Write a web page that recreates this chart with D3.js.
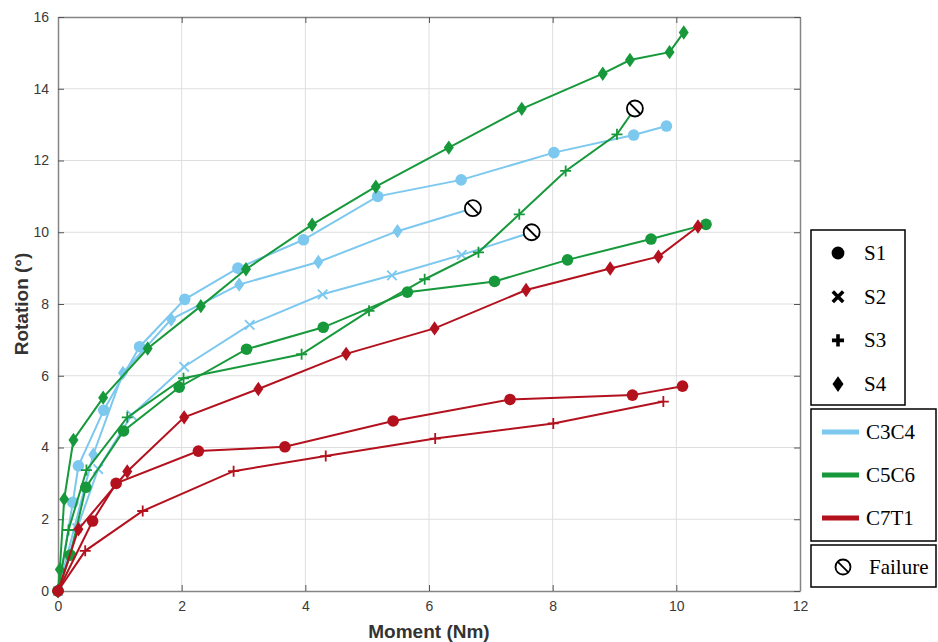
<!DOCTYPE html>
<html>
<head>
<meta charset="utf-8">
<script src="https://cdn.jsdelivr.net/npm/d3@7"></script>
<style>
  body { margin: 0; background: #fff; }
  svg { display: block; }
</style>
</head>
<body>
<div id="chart-area"></div>
<script>
// DATA  (moment Nm, rotation deg)
var c3c4_s1 = [[0,0],[0.24,2.47],[0.33,3.49],[0.74,5.04],[1.32,6.81],[2.05,8.13],[2.91,9.0],[3.97,9.79],[5.17,11.0],[6.52,11.46],[8.02,12.22],[9.31,12.71],[9.84,12.96]];
var c3c4_s2 = [[0,0],[0.31,1.75],[0.65,3.4],[1.19,4.9],[2.04,6.25],[3.1,7.42],[4.28,8.27],[5.40,8.8],[6.53,9.37],[7.66,10.0]];
var c3c4_s4 = [[0,0],[0.57,3.8],[1.05,6.08],[1.83,7.57],[2.93,8.54],[4.21,9.17],[5.49,10.03],[6.71,10.67]];
var c5c6_s1 = [[0,0],[0.2,1.0],[0.45,2.89],[1.06,4.46],[1.96,5.68],[3.05,6.74],[4.29,7.35],[5.65,8.33],[7.06,8.63],[8.24,9.23],[9.59,9.81],[10.48,10.22]];
var c5c6_s3 = [[0,0],[0.17,1.7],[0.46,3.37],[1.12,4.84],[2.03,5.93],[3.94,6.60],[5.03,7.81],[5.93,8.69],[6.80,9.44],[7.46,10.5],[8.21,11.71],[9.04,12.73],[9.33,13.45]];
var c5c6_s4 = [[0,0],[0.03,0.6],[0.10,2.56],[0.25,4.21],[0.73,5.39],[1.45,6.76],[2.31,7.94],[3.04,8.97],[4.11,10.21],[5.14,11.27],[6.32,12.36],[7.50,13.44],[8.81,14.42],[9.25,14.8],[9.89,15.02],[10.12,15.57]];
var c7t1_s1 = [[0,0],[0.56,1.95],[0.94,3.0],[2.27,3.9],[3.67,4.02],[5.42,4.74],[7.31,5.34],[9.29,5.46],[10.10,5.71]];
var c7t1_s3 = [[0,0],[0.44,1.12],[1.37,2.23],[2.84,3.34],[4.33,3.76],[6.10,4.25],[8.01,4.67],[9.79,5.28]];
var c7t1_s4 = [[0,0],[0.33,1.72],[1.12,3.33],[2.04,4.84],[3.24,5.63],[4.66,6.61],[6.09,7.32],[7.57,8.39],[8.93,8.99],[9.71,9.32],[10.35,10.16]];

// which series end in failure (last point)
var failed = ["c3c4_s2", "c3c4_s4", "c5c6_s3"];

var levels = ["C3C4", "C5C6", "C7T1"];
var levelColor = { "C3C4": "#7cc8ee", "C5C6": "#17993b", "C7T1": "#b3111d" };
var specimens = ["S1", "S2", "S3", "S4"];

var xTicks = [0, 2, 4, 6, 8, 10, 12];
var yTicks = [0, 2, 4, 6, 8, 10, 12, 14, 16];

var series = [
    { id: "c3c4_s1", level: "C3C4", spec: "S1", pts: c3c4_s1 },
    { id: "c3c4_s2", level: "C3C4", spec: "S2", pts: c3c4_s2 },
    { id: "c3c4_s4", level: "C3C4", spec: "S4", pts: c3c4_s4 },
    { id: "c5c6_s1", level: "C5C6", spec: "S1", pts: c5c6_s1 },
    { id: "c5c6_s3", level: "C5C6", spec: "S3", pts: c5c6_s3 },
    { id: "c5c6_s4", level: "C5C6", spec: "S4", pts: c5c6_s4 },
    { id: "c7t1_s1", level: "C7T1", spec: "S1", pts: c7t1_s1 },
    { id: "c7t1_s3", level: "C7T1", spec: "S3", pts: c7t1_s3 },
    { id: "c7t1_s4", level: "C7T1", spec: "S4", pts: c7t1_s4 }
];

var margin = { left: 58, right: 138, top: 17, bottom: 51 };
var W = 938, H = 642;
var width = W - margin.left - margin.right,
    height = H - margin.top - margin.bottom;

var svg = d3.select("#chart-area")
    .append("svg")
        .attr("width", W)
        .attr("height", H);

var g = svg.append("g")
    .attr("transform", "translate(" + margin.left + "," + margin.top + ")");

// SCALES
var x = d3.scaleLinear().domain([0, 12]).range([0, width]);
var y = d3.scaleLinear().domain([0, 16]).range([height, 0]);

// GRID
g.append("g").selectAll("line.gx")
    .data(xTicks.slice(1, -1)).enter().append("line")
        .attr("x1", d => x(d)).attr("x2", d => x(d))
        .attr("y1", 0).attr("y2", height)
        .attr("stroke", "#dedede").attr("stroke-width", 1);
g.append("g").selectAll("line.gy")
    .data(yTicks.slice(1, -1)).enter().append("line")
        .attr("y1", d => y(d)).attr("y2", d => y(d))
        .attr("x1", 0).attr("x2", width)
        .attr("stroke", "#dedede").attr("stroke-width", 1);

// AXES (matlab style box, inward ticks)
var axisColor = "#858585";
function styleAxis(sel) {
    sel.select(".domain").attr("stroke", axisColor).attr("stroke-width", 1.5);
    sel.selectAll(".tick line").attr("stroke", "#555");
    sel.selectAll(".tick text").attr("fill", "#3a3a3a").attr("font-family", "Liberation Sans, Arial, sans-serif").attr("font-size", "14px");
}
var xAxis = g.append("g")
    .attr("transform", "translate(0," + height + ")")
    .call(d3.axisBottom(x).tickValues(xTicks).tickSizeInner(-6).tickSizeOuter(0).tickPadding(10));
styleAxis(xAxis);
var xAxisTop = g.append("g")
    .call(d3.axisTop(x).tickValues(xTicks).tickSizeInner(-6).tickSizeOuter(0).tickFormat(""));
styleAxis(xAxisTop);
var yAxis = g.append("g")
    .call(d3.axisLeft(y).tickValues(yTicks).tickSizeInner(-6).tickSizeOuter(0).tickPadding(9));
styleAxis(yAxis);
var yAxisRight = g.append("g")
    .attr("transform", "translate(" + width + ",0)")
    .call(d3.axisRight(y).tickValues(yTicks).tickSizeInner(-6).tickSizeOuter(0).tickFormat(""));
styleAxis(yAxisRight);

// LABELS
g.append("text")
    .attr("x", width / 2).attr("y", height + 47)
    .attr("text-anchor", "middle")
    .attr("font-family", "Liberation Sans, Arial, sans-serif")
    .attr("font-weight", "bold").attr("font-size", "19px")
    .attr("fill", "#333")
    .text("Moment (Nm)");
g.append("text")
    .attr("transform", "translate(-30," + (height / 2) + ") rotate(-90)")
    .attr("text-anchor", "middle")
    .attr("font-family", "Liberation Sans, Arial, sans-serif")
    .attr("font-weight", "bold").attr("font-size", "19px")
    .attr("fill", "#333")
    .text("Rotation (°)");

// MARKERS
function drawMarker(sel, spec, color, s, sw) {
    s = s || 1;
    sw = sw || 1.8;
    if (spec == "S1") {
        sel.append("circle").attr("r", 5.8 * s).attr("fill", color);
    } else if (spec == "S2") {
        sel.append("path").attr("d", d3.symbol(d3.symbolX, 60 * s * s)())
            .attr("fill", "none").attr("stroke", color).attr("stroke-width", sw);
    } else if (spec == "S3") {
        sel.append("path").attr("d", "M" + (-5.5 * s) + ",0H" + (5.5 * s) + "M0," + (-5.5 * s) + "V" + (5.5 * s))
            .attr("fill", "none").attr("stroke", color).attr("stroke-width", sw);
    } else {
        sel.append("path").attr("d", "M0," + (-7.2 * s) + "L" + (5 * s) + ",0L0," + (7.2 * s) + "L" + (-5 * s) + ",0Z")
            .attr("fill", color);
    }
}
function drawFailure(sel, r) {
    sel.append("circle").attr("r", r).attr("fill", "#fff")
        .attr("stroke", "#000").attr("stroke-width", 1.8);
    var k = r * 0.72;
    sel.append("line").attr("x1", -k).attr("y1", -k).attr("x2", k).attr("y2", k)
        .attr("stroke", "#000").attr("stroke-width", 1.8);
}

var line = d3.line().x(d => x(d[0])).y(d => y(d[1]));

series.forEach(function(s) {
    var col = levelColor[s.level];
    var isFail = failed.indexOf(s.id) >= 0;
    g.append("path").datum(s.pts)
        .attr("d", line)
        .attr("fill", "none").attr("stroke", col).attr("stroke-width", 2);
    var pts = isFail ? s.pts.slice(0, -1) : s.pts;
    pts.forEach(function(p) {
        var m = g.append("g").attr("transform", "translate(" + x(p[0]) + "," + y(p[1]) + ")");
        drawMarker(m, s.spec, col);
    });
    if (isFail) {
        var last = s.pts[s.pts.length - 1];
        var f = g.append("g").attr("transform", "translate(" + x(last[0]) + "," + y(last[1]) + ")");
        drawFailure(f, 8);
    }
});

// LEGEND
var serif = "Liberation Serif, Times New Roman, serif";
var leg = svg.append("g");

leg.append("rect").attr("x", 811).attr("y", 230).attr("width", 94).attr("height", 175)
    .attr("fill", "#fff").attr("stroke", "#000").attr("stroke-width", 1.5);
specimens.forEach(function(sp, i) {
    var yy = 253 + i * 43.7;
    var m = leg.append("g").attr("transform", "translate(838," + yy + ")");
    drawMarker(m, sp, "#000", 1.1, 3.6);
    leg.append("text").attr("x", 864).attr("y", yy + 7)
        .attr("font-family", serif).attr("font-size", "21px").attr("fill", "#000")
        .text(sp);
});

leg.append("rect").attr("x", 811).attr("y", 409).attr("width", 125).attr("height", 132)
    .attr("fill", "#fff").attr("stroke", "#000").attr("stroke-width", 1.5);
levels.forEach(function(lv, i) {
    var yy = 432 + i * 43;
    leg.append("line").attr("x1", 822).attr("x2", 859).attr("y1", yy).attr("y2", yy)
        .attr("stroke", levelColor[lv]).attr("stroke-width", 5);
    leg.append("text").attr("x", 866).attr("y", yy + 7)
        .attr("font-family", serif).attr("font-size", "21px").attr("fill", "#000")
        .text(lv);
});

leg.append("rect").attr("x", 811).attr("y", 545).attr("width", 125).attr("height", 42)
    .attr("fill", "#fff").attr("stroke", "#000").attr("stroke-width", 1.5);
var fl = leg.append("g").attr("transform", "translate(843,567)");
drawFailure(fl, 7.5);
leg.append("text").attr("x", 869).attr("y", 574)
    .attr("font-family", serif).attr("font-size", "21px").attr("fill", "#000")
    .text("Failure");
</script>
</body>
</html>
